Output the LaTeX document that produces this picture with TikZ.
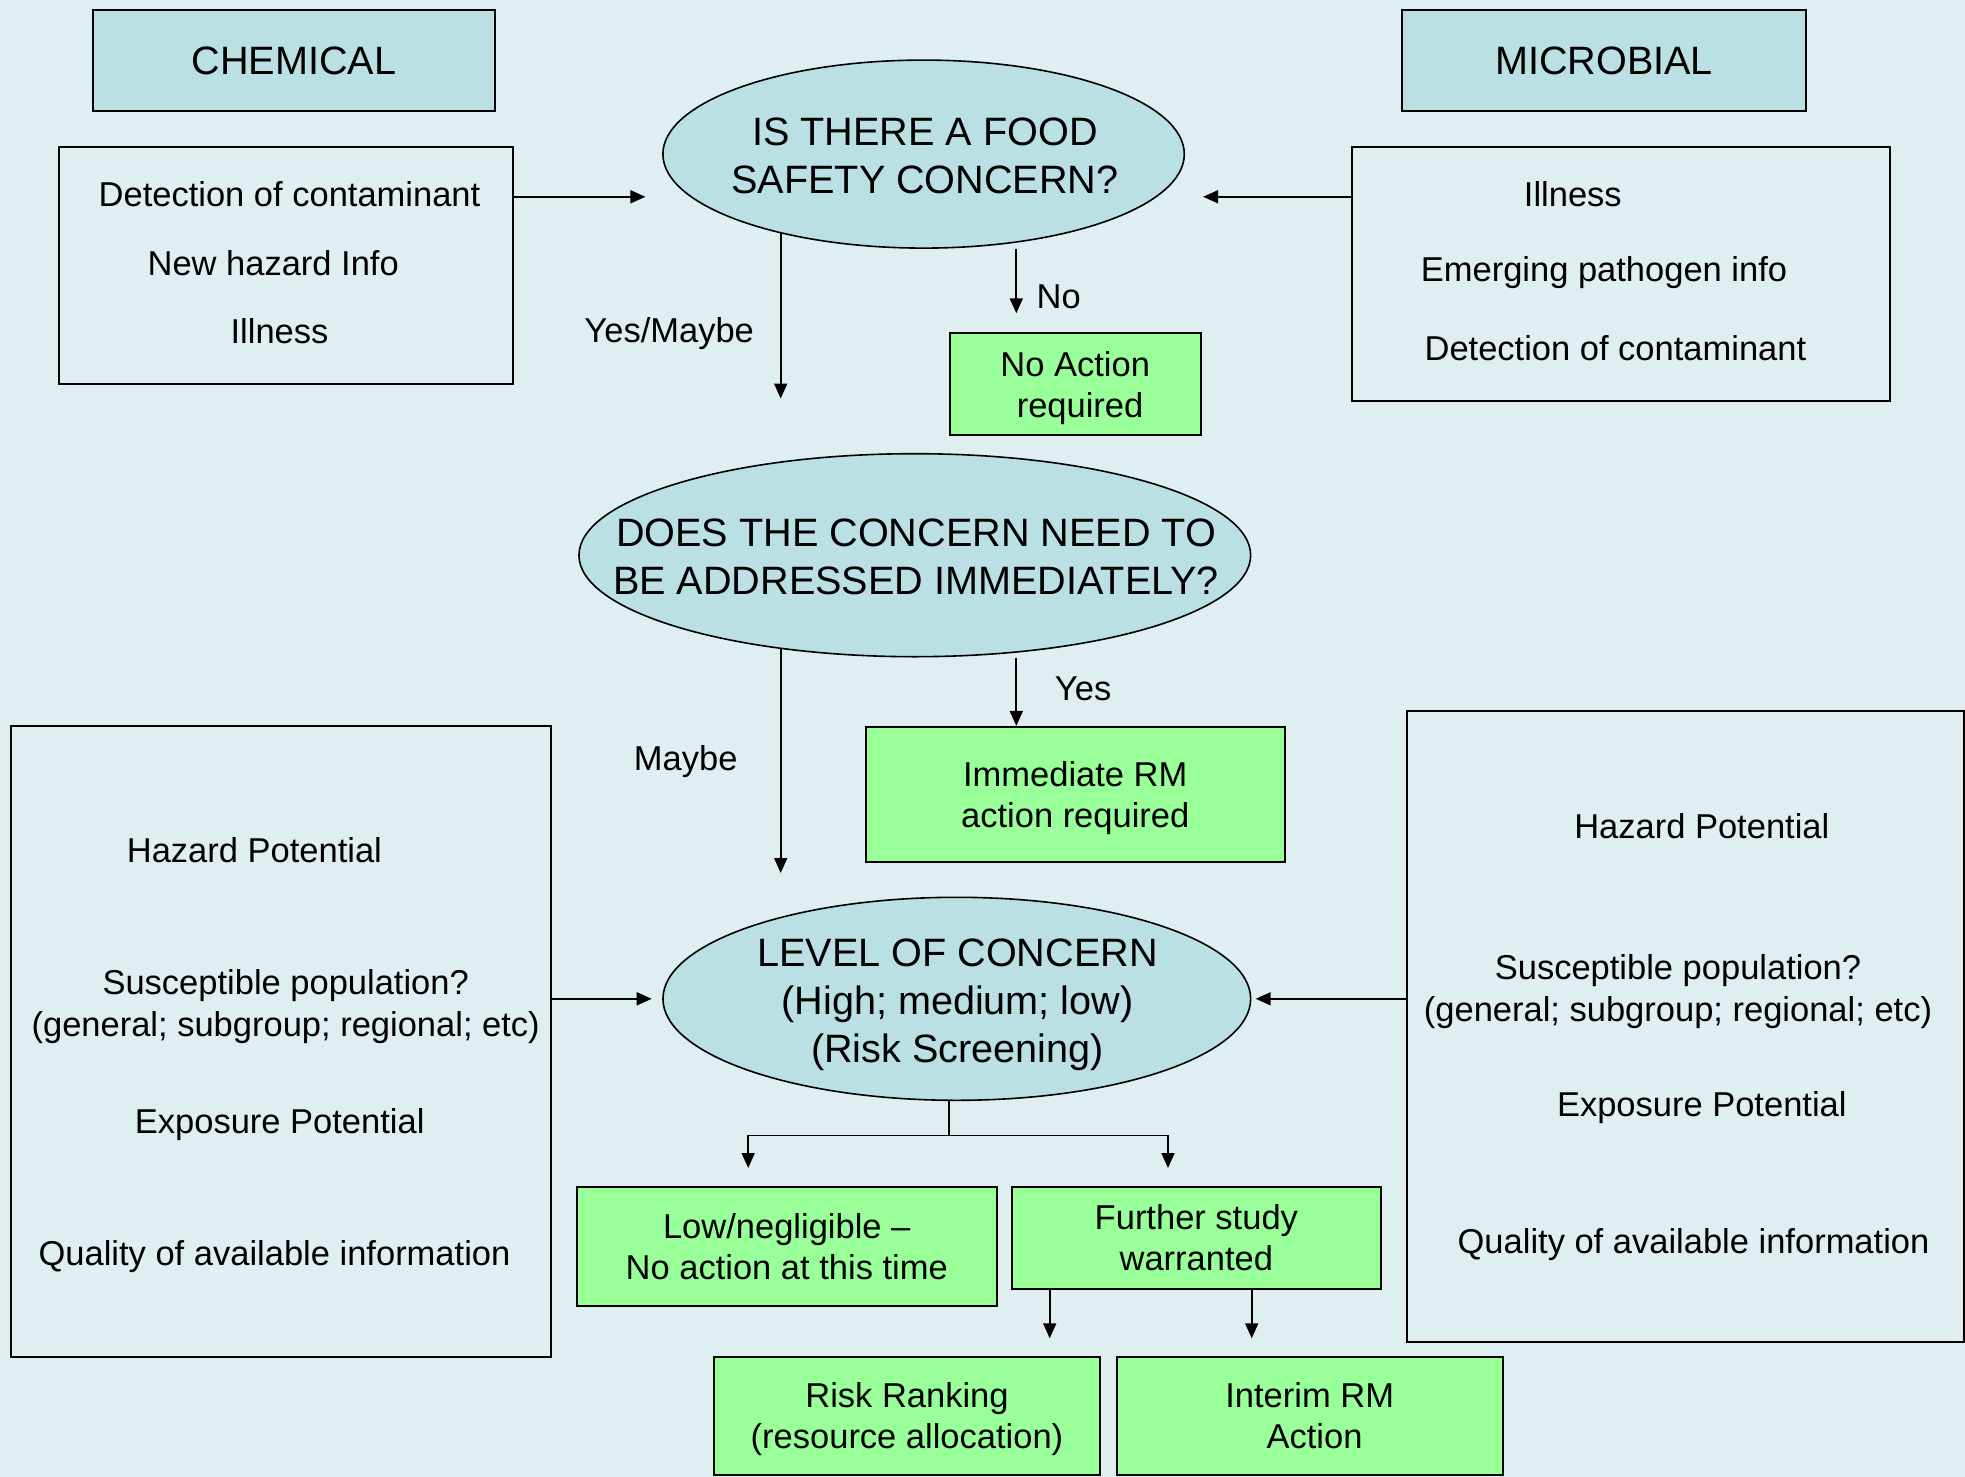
\documentclass[tikz,border=0pt]{standalone}
\usepackage{fontspec}
\setmainfont{Liberation Sans}
\usetikzlibrary{arrows.meta,shapes.geometric}
\definecolor{bgc}{RGB}{223,238,241}
\definecolor{ellc}{RGB}{187,224,227}
\definecolor{grnc}{RGB}{153,255,153}
\tikzset{
  body/.style={font=\fontsize{34.5}{41}\selectfont},
  headf/.style={font=\fontsize{39.6}{48}\selectfont},
  boxd/.style={draw=black, line width=2pt, inner sep=0pt, align=center, body},
  hdr/.style={boxd, fill=ellc, headf},
  grnbox/.style={boxd, fill=grnc},
  oval/.style={ellipse, draw=black, line width=1.6pt, fill=ellc, inner sep=0pt},
  ovaltxt/.style={inner sep=0pt, align=center, headf},
  txt/.style={body, inner sep=0pt, anchor=base},
  arr/.style={line width=1.7pt, -{Triangle[length=15pt,width=13pt]}},
  ln/.style={line width=1.7pt},
}
\begin{document}
\begin{tikzpicture}[x=1pt,y=-1pt]
\fill[bgc] (0,0) rectangle (1965,1477);
\useasboundingbox (0,0) rectangle (1965,1477);

% headers
\node[hdr, minimum width=402.3pt, minimum height=101.5pt] (chemhdr) at (293.85,60.75) {CHEMICAL};
\node[hdr, minimum width=404pt, minimum height=101.5pt] (michdr) at (1604,60.75) {MICROBIAL};

% top list boxes
\node[boxd, minimum width=453.7pt, minimum height=236.9pt] (chemlist) at (285.75,265.05) {};
\node[txt] (cl1) at (289.5,206.6) {Detection of contaminant};
\node[txt] (cl2) at (273.2,275.6) {New hazard Info};
\node[txt] (cl3) at (279.5,343.2) {Illness};

\node[boxd, minimum width=537.8pt, minimum height=254.4pt] (miclist) at (1621.1,273.8) {};
\node[txt] (ml1) at (1572.8,206.6) {Illness};
\node[txt] (ml2) at (1604,281.8) {Emerging pathogen info};
\node[txt] (ml3) at (1615.4,360.3) {Detection of contaminant};

% decision ellipses
\node[oval, minimum width=521.4pt, minimum height=188pt] (e1) at (923.6,154.1) {};
\node[ovaltxt] (e1t) at (925,155.5) {IS THERE A FOOD\\\smash{SAFETY CONCERN?}};
\node[oval, minimum width=671.7pt, minimum height=203pt] (e2) at (914.8,555.2) {};
\node[ovaltxt] (e2t) at (916,556.5) {DOES THE CONCERN NEED TO\\\smash{BE ADDRESSED IMMEDIATELY?}};
\node[oval, minimum width=587.7pt, minimum height=203pt] (e3) at (956.8,998.8) {};
\node[ovaltxt] (e3t) at (957.5,1001) {LEVEL OF CONCERN\\(High; medium; low)\\\smash{(Risk Screening)}};

% green outcome boxes
\node[grnbox, minimum width=250.7pt, minimum height=101.6pt] (noact) at (1075.25,384.2) {No Action\\\smash{\ required}};
\node[grnbox, minimum width=418.5pt, minimum height=135.3pt] (imm) at (1075.25,794.55) {Immediate RM\\\smash{action required}};
\node[grnbox, minimum width=420.5pt, minimum height=119.2pt] (low) at (786.75,1246.4) {Low/negligible \textendash\\\smash{No action at this time}};
\node[grnbox, minimum width=369.1pt, minimum height=102.2pt] (fur) at (1196.35,1237.9) {Further study\\\smash{warranted}};
\node[grnbox, minimum width=386.4pt, minimum height=118.3pt] (risk) at (907,1415.85) {Risk Ranking\\\smash{(resource allocation)}};
\node[grnbox, minimum width=385.8pt, minimum height=118.3pt] (interim) at (1309.7,1415.85) {Interim RM\\\smash{\ Action}};

% big factor boxes
\node[boxd, minimum width=540.1pt, minimum height=631.6pt] (lbig) at (281.35,1041.4) {};
\node[txt] (lb1) at (254.4,862.1) {Hazard Potential};
\node[txt] (lb2) at (285.7,994.3) {Susceptible population?};
\node[txt] (lb3) at (285.7,1036) {(general; subgroup; regional; etc)};
\node[txt] (lb4) at (279.7,1133) {Exposure Potential};
\node[txt] (lb5) at (274.5,1265.6) {Quality of available information};

\node[boxd, minimum width=556.5pt, minimum height=631.6pt] (rbig) at (1685.55,1026.4) {};
\node[txt] (rb1) at (1701.8,838.1) {Hazard Potential};
\node[txt] (rb2) at (1678,979.5) {Susceptible population?};
\node[txt] (rb3) at (1678,1021.1) {(general; subgroup; regional; etc)};
\node[txt] (rb4) at (1701.8,1116.8) {Exposure Potential};
\node[txt] (rb5) at (1693.5,1253.1) {Quality of available information};

% labels
\node[txt] (lblym) at (669.2,342.5) {Yes/Maybe};
\node[txt] (lblno) at (1058.7,308.7) {No};
\node[txt] (lblmb) at (685.7,770.3) {Maybe};
\node[txt] (lblyes) at (1083.1,700.8) {Yes};

% arrow ends
\coordinate (ctip) at (645.4,196.8);
\coordinate (mtip) at (1203.1,196.8);
\coordinate (ymtip) at (780.7,398.5);
\coordinate (notip) at (1016.3,313.3);
\coordinate (mbtip) at (780.7,873);
\coordinate (ltip) at (651.7,998.8);
\coordinate (rtip) at (1255.7,998.8);
\coordinate (split) at (948.7,1135.4);
\coordinate (lowtip) at (748.2,1168);
\coordinate (furtip) at (1168,1168);
\coordinate (rktip) at (1049.7,1338.3);
\coordinate (imtip) at (1251.7,1338.3);

% connectors
\draw[arr] (chemlist.east |- ctip) -- (ctip);
\draw[arr] (miclist.west |- mtip) -- (mtip);
\draw[arr] (e1.208.8 -| ymtip) -- (ymtip);
\draw[arr] (e1.south -| notip) -- (notip);
\draw[arr] (e2.214.8 -| mbtip) -- (mbtip);
\draw[arr] (e2.south -| notip) -- (imm.north -| notip);
\draw[arr] (lbig.east |- ltip) -- (ltip);
\draw[arr] (rbig.west |- rtip) -- (rtip);
\draw[ln] (e3.south -| split) -- (split);
\draw[arr] (split) -| (lowtip);
\draw[arr] (split) -| (furtip);
\draw[arr] (fur.south -| rktip) -- (rktip);
\draw[arr] (fur.south -| imtip) -- (imtip);
\end{tikzpicture}
\end{document}
